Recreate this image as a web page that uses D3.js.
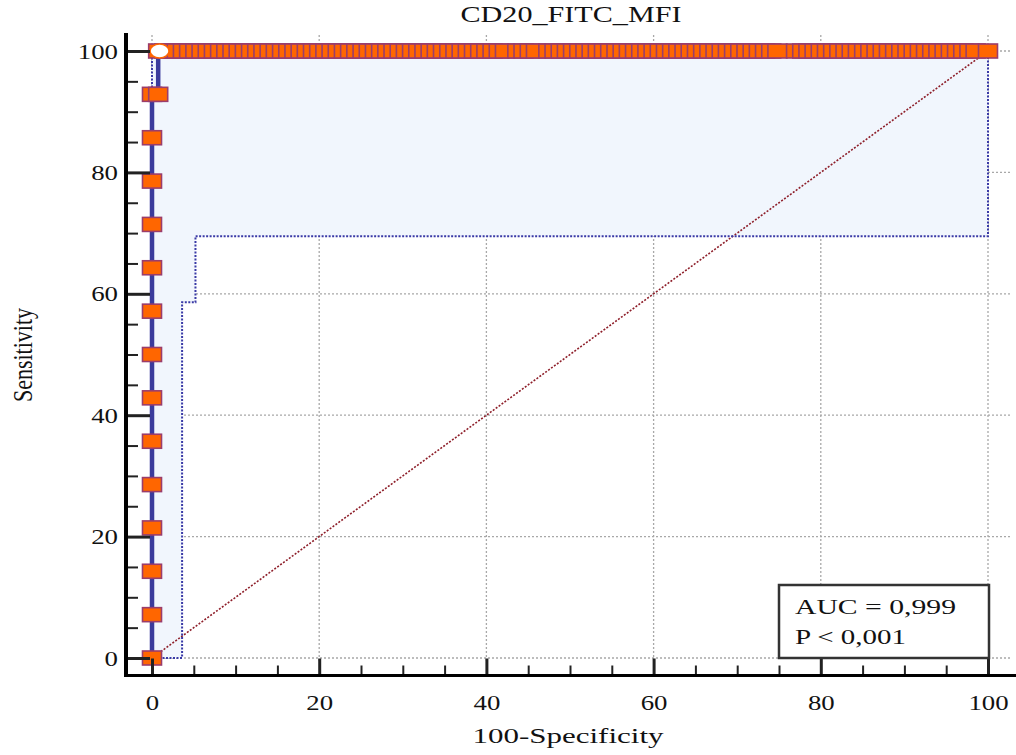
<!DOCTYPE html>
<html><head><meta charset="utf-8">
<script src="https://cdn.jsdelivr.net/npm/d3@7"></script>
<style>
html,body{margin:0;padding:0;background:#fff;}
text{font-family:"Liberation Serif","Times New Roman",serif;fill:#111;}
</style></head>
<body><svg id="chart" width="1016" height="755"></svg>
<script>
// ---- data ----
const chartTitle = "CD20_FITC_MFI";
const xLabel = "100-Specificity";
const yLabel = "Sensitivity";
const aucText = "AUC = 0,999";
const pText = "P < 0,001";
const xTicks = [0, 20, 40, 60, 80, 100];
const yTicks = [0, 20, 40, 60, 80, 100];
const minorTicks = [0,5,10,15,20,25,30,35,40,45,50,55,60,65,70,75,80,85,90,95,100];
// ROC curve vertices
const rocX = [0, 0, 0.74, 0.74, 100];
const rocY = [0, 92.86, 92.86, 100, 100];
// criterion markers on the left (100-specificity, sensitivity)
const leftMarkX = [0,0,0,0,0,0,0,0,0,0,0,0,0,0,0.74];
const leftMarkY = [0,7.14,14.29,21.43,28.57,35.71,42.86,50,57.14,64.29,71.43,78.57,85.71,92.86,92.86];
// criterion markers on the top row (sensitivity = 100)
const topMarkX = [0.74,1.48,2.22,2.96,3.70,4.44,5.19,5.93,6.67,7.41,8.15,8.89,9.63,10.37,11.11,11.85,12.59,13.33,14.07,14.81,
15.56,16.30,17.04,17.78,18.52,19.26,20.00,20.74,21.48,22.22,22.96,23.70,24.44,25.19,25.93,26.67,27.41,28.15,28.89,29.63,
30.37,31.11,31.85,32.59,33.33,34.07,34.81,35.56,36.30,37.04,37.78,38.52,39.26,40.00,40.74,41.48,42.22,43.70,44.44,45.19,
45.93,47.41,48.15,48.89,49.63,50.37,51.11,51.85,52.59,53.33,54.07,54.81,55.56,56.30,57.04,57.78,58.52,59.26,60.00,60.74,
61.48,62.22,62.96,63.70,64.44,65.19,65.93,66.67,67.41,68.15,68.89,69.63,70.37,71.11,71.85,72.59,73.33,74.07,74.81,77.04,
77.78,78.52,79.26,80.00,80.74,81.48,82.22,82.96,83.70,84.44,85.19,85.93,86.67,87.41,88.15,88.89,89.63,90.37,91.11,91.85,
92.59,93.33,94.07,94.81,95.56,96.30,97.04,97.78,98.52,100];
// optimal criterion point
const bestX = [0.9];
const bestY = [100];
// 95% confidence bounds
const ciUpX = [0, 0, 100];
const ciUpY = [0, 100, 100];
const ciLoX = [0, 3.6, 3.6, 5.2, 5.2, 100, 100];
const ciLoY = [0, 0, 58.6, 58.6, 69.5, 69.5, 100];
const diagX = [0, 100];
const diagY = [0, 100];

// ---- drawing ----
const svg = d3.select("#chart");
const x = d3.scaleLinear().domain([0, 100]).range([152, 988]);
const y = d3.scaleLinear().domain([0, 100]).range([658, 51]);
const axX = 126, axY = 675.5;
const stretch = 1.22;

function fit(sel, f) {
  sel.each(function(){ const w = this.getComputedTextLength(); d3.select(this).attr("textLength", w * f).attr("lengthAdjust", "spacingAndGlyphs"); });
}

// grid
const grid = svg.append("g").attr("stroke", "#a8a8a8").attr("stroke-width", 1.3).attr("stroke-dasharray", "2,2").attr("fill", "none");
grid.selectAll(".gx").data(xTicks).join("line").attr("x1", d => x(d)).attr("x2", d => x(d)).attr("y1", 35).attr("y2", 661);
grid.selectAll(".gy").data(yTicks).join("line").attr("y1", d => y(d)).attr("y2", d => y(d)).attr("x1", x(0)).attr("x2", 1010);

// CI fill
const line = d3.line().x(d => x(d[0])).y(d => y(d[1]));
const upPts = ciUpX.map((v, i) => [v, ciUpY[i]]);
const loPts = ciLoX.map((v, i) => [v, ciLoY[i]]);
svg.append("path").attr("d", line(upPts.concat(loPts.slice().reverse()))).attr("fill", "#f1f6fd").attr("stroke", "none");

// diagonal
svg.append("path").attr("d", line(diagX.map((v, i) => [v, diagY[i]]))).attr("fill", "none")
  .attr("stroke", "#8e1f2a").attr("stroke-width", 1.6).attr("stroke-dasharray", "2,1.6");

// CI bounds
[upPts, loPts].forEach(p => svg.append("path").attr("d", line(p)).attr("fill", "none")
  .attr("stroke", "#3a3aa6").attr("stroke-width", 2).attr("stroke-dasharray", "2,1.5"));

// grid on top of fill at x=100 already drawn; ROC line
svg.append("path").attr("d", line(rocX.map((v, i) => [v, rocY[i]]))).attr("fill", "none")
  .attr("stroke", "#3b3b9c").attr("stroke-width", 4.5);

// markers
const mw = 19, mh = 14;
const marks = leftMarkX.map((v, i) => [v, leftMarkY[i]]).concat(topMarkX.map(v => [v, 100]));
svg.append("g").selectAll("rect").data(marks).join("rect")
  .attr("x", d => x(d[0]) - mw / 2).attr("y", d => y(d[1]) - mh / 2)
  .attr("width", mw).attr("height", mh)
  .attr("fill", "#ff6600").attr("stroke", "#9a3d6c").attr("stroke-width", 1.6);

// best point
svg.selectAll(".best").data(bestX).join("ellipse")
  .attr("cx", d => x(d)).attr("cy", (d, i) => y(bestY[i])).attr("rx", 9.5).attr("ry", 7)
  .attr("fill", "#fff").attr("stroke", "#ff6600").attr("stroke-width", 1.5);

// axes
const yAxis = svg.append("g").attr("transform", `translate(${axX},0)`)
  .call(d3.axisLeft(y).tickValues(yTicks).tickSizeInner(-24).tickSizeOuter(0).tickPadding(8));
const yMinor = svg.append("g").attr("transform", `translate(${axX},0)`)
  .call(d3.axisLeft(y).tickValues(minorTicks.filter(v => v % 20 !== 0)).tickSizeInner(-12).tickSizeOuter(0).tickFormat(""));
const xAxis = svg.append("g").attr("transform", `translate(0,${axY})`)
  .call(d3.axisBottom(x).tickValues(xTicks).tickSizeInner(-17).tickSizeOuter(0).tickPadding(19));
const xMinor = svg.append("g").attr("transform", `translate(0,${axY})`)
  .call(d3.axisBottom(x).tickValues(minorTicks.filter(v => v % 20 !== 0)).tickSizeInner(-10).tickSizeOuter(0).tickFormat(""));
[yAxis, yMinor, xAxis, xMinor].forEach(g => { g.select(".domain").remove(); g.selectAll("line").attr("stroke", "#222"); });
[yAxis, xAxis].forEach(g => g.selectAll("line").attr("stroke-width", 3));
[yMinor, xMinor].forEach(g => g.selectAll("line").attr("stroke-width", 2));
[yAxis, xAxis].forEach(g => g.selectAll("text").attr("font-family", "Liberation Serif").attr("font-size", 22).attr("fill", "#111"));
yAxis.selectAll("text").call(fit, stretch);
xAxis.selectAll("text").call(fit, stretch);

svg.append("line").attr("x1", axX).attr("x2", axX).attr("y1", 33).attr("y2", axY + 1.5).attr("stroke", "#000").attr("stroke-width", 4);
svg.append("line").attr("x1", axX - 2).attr("x2", 1016).attr("y1", axY).attr("y2", axY).attr("stroke", "#000").attr("stroke-width", 3);

// titles
svg.append("text").attr("x", 571).attr("y", 22).attr("text-anchor", "middle").attr("font-size", 23).text(chartTitle)
  .attr("textLength", 221).attr("lengthAdjust", "spacingAndGlyphs");
svg.append("text").attr("x", 568).attr("y", 743).attr("text-anchor", "middle").attr("font-size", 22).text(xLabel)
  .attr("textLength", 191).attr("lengthAdjust", "spacingAndGlyphs");
svg.append("text").attr("transform", "translate(22,355) rotate(-90) scale(1,1.25)")
  .attr("text-anchor", "middle").attr("dy", "0.35em").attr("font-size", 22).text(yLabel);

// AUC box
svg.append("rect").attr("x", 779).attr("y", 585).attr("width", 210).attr("height", 73)
  .attr("fill", "#fff").attr("stroke", "#333").attr("stroke-width", 2.5);
svg.append("text").attr("x", 795).attr("y", 614).attr("font-size", 22).text(aucText)
  .attr("textLength", 161).attr("lengthAdjust", "spacingAndGlyphs");
svg.append("text").attr("x", 795).attr("y", 644).attr("font-size", 22).text(pText)
  .attr("textLength", 111).attr("lengthAdjust", "spacingAndGlyphs");
</script></body></html>
